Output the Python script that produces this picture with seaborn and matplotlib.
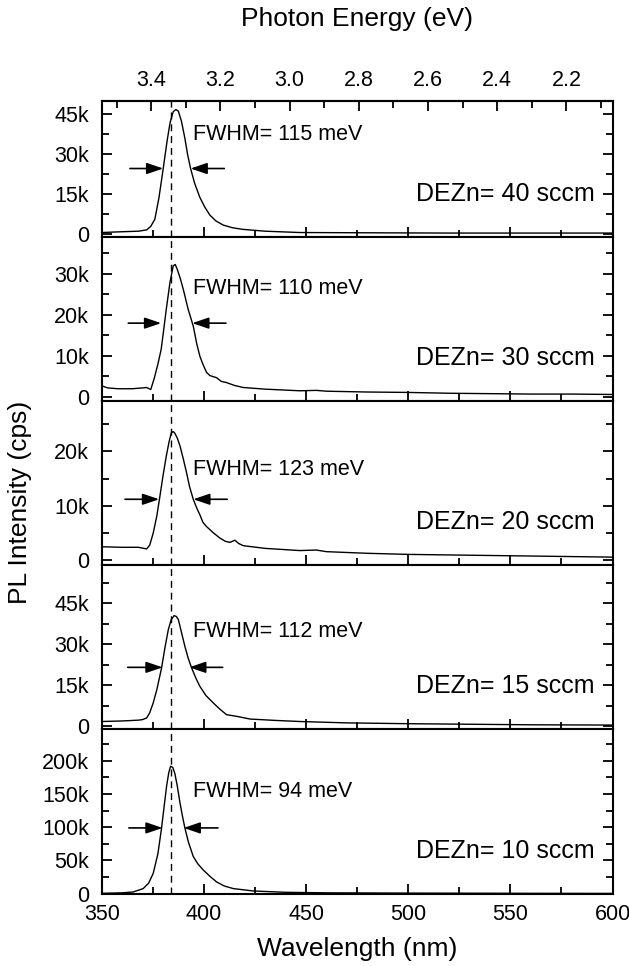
import numpy as np
import pandas as pd
import matplotlib.pyplot as plt
import seaborn as sns
from matplotlib.ticker import MultipleLocator, FixedLocator, FuncFormatter

# PL spectra, intensity in kcps
wl_40 = [350, 360, 368, 372, 374, 376, 378, 380, 382, 383.5, 385, 386.3, 387.5, 389, 390.7, 392, 393.5,
         395.5, 398, 400.5, 403, 406, 409.5, 414, 419, 430, 447, 480, 520, 560, 600]
pl_40 = [0.5, 0.8, 1.0, 1.5, 2.8, 5.5, 13.5, 24, 35, 42, 46, 46.8, 46.2, 42.5, 36, 30, 24.6,
         19, 13.8, 10, 7, 4.8, 3.3, 2.3, 1.7, 1.0, 0.5, 0.4, 0.3, 0.3, 0.3]

wl_30 = [350, 353, 358, 365, 370, 372, 374, 375.8, 377.5, 379.1, 380.5, 381.6, 383.4, 385, 386, 387, 388.5,
         389.9, 392.3, 394.8, 396.5, 398, 399.5, 401.3, 403, 406.2, 408.5, 411.1, 415, 419.3, 430, 447,
         455, 460, 480, 500, 520, 540, 560, 580, 600]
pl_30 = [2.7, 2.2, 2.0, 2.0, 2.2, 2.3, 1.8, 4.7, 8, 11.6, 17, 21.4, 27.9, 32, 32.3, 31.1, 28.8,
         26.3, 21.4, 17.3, 13, 10, 8, 6, 5.2, 4.7, 3.8, 3.5, 2.8, 2.3, 1.9, 1.5,
         1.6, 1.4, 1.2, 1.1, 0.9, 0.8, 0.7, 0.7, 0.6]

wl_20 = [350, 360, 368, 372, 373.5, 375.2, 377, 378.5, 380, 381.6, 383, 384.1, 385, 385.8, 387, 388.3,
         390, 391.5, 393, 394.8, 396.5, 398, 399.5, 401.3, 404.5, 407.8, 410.5, 412.7, 415.2, 417, 419.3,
         430, 447, 455, 460, 480, 500, 520, 540, 560, 580, 600]
pl_20 = [2.5, 2.4, 2.4, 2.1, 2.8, 5, 8.2, 11.8, 15.5, 19.1, 21.8, 23.4, 23.6, 23.3, 22.4, 21,
         18.5, 16.1, 13.5, 11.2, 9.6, 8.4, 7, 6.2, 5.1, 4.1, 3.5, 3.3, 3.7, 3.1, 2.7,
         2.2, 1.8, 1.9, 1.6, 1.3, 1.1, 1.0, 0.9, 0.8, 0.7, 0.6]

wl_15 = [350, 360, 368, 370, 372, 373.5, 375.2, 377, 379.3, 381, 382.6, 384, 385.4, 386.5, 387.5, 389,
         390.7, 392.3, 394, 396, 398, 401, 404.6, 408, 411.1, 416, 422.6, 435, 447, 470, 500, 530, 560, 600]
pl_15 = [1.8, 2.0, 2.3, 2.5, 3.1, 5, 8.6, 13.5, 21.4, 29, 35.4, 39, 40.5, 40.2, 39.1, 34.5,
         29.3, 25, 21.4, 17.8, 14.7, 11.3, 8.6, 6.2, 4.3, 3.7, 2.7, 2.2, 1.8, 1.3, 1.0, 0.8, 0.6, 0.5]

wl_10 = [350, 360, 365.4, 370.3, 373, 375.2, 377.5, 379.3, 380.5, 381.8, 382.8, 383.7, 384.8, 385.8, 387,
         388.3, 389.5, 390.7, 392.5, 394.8, 397, 399.7, 403, 406.2, 410, 414.4, 424.2, 440, 460, 500, 550, 600]
pl_10 = [0.5, 1.2, 2.5, 7.6, 16, 30.5, 60, 99, 130, 163, 182, 192, 190, 181, 162,
         137, 117, 99, 77, 56, 45, 35.6, 26, 17.7, 11.5, 7.6, 4, 2, 1.2, 0.8, 0.5, 0.3]

dezn_flow = [40, 30, 20, 15, 10]
fwhm_mev = [115, 110, 123, 112, 94]
wavelengths = [wl_40, wl_30, wl_20, wl_15, wl_10]
intensities = [pl_40, pl_30, pl_20, pl_15, pl_10]

# FWHM arrows: half max level (kcps), left tail/tip, right tail/tip (nm)
half_max = [24.6, 18, 11.2, 21.6, 99]
arrow_left = [(363.8, 380.1), (363, 379.1), (361.4, 378.1), (362.7, 379.8), (363.3, 379.8)]
arrow_right = [(410, 393.5), (410.8, 394.3), (411.4, 394.8), (409.2, 392.8), (406.9, 390.1)]
peak_line = 384

# top axis ticks (eV)
ev_major = [3.4, 3.2, 3.0, 2.8, 2.6, 2.4, 2.2]
ev_minor = [3.5, 3.3, 3.1, 2.9, 2.7, 2.5, 2.3, 2.1]

# axis setup per panel
ylims = [(-1.2, 50), (-1, 39), (-0.85, 29.2), (-0.95, 59), (-0.6, 248)]
ysteps = [15, 10, 10, 15, 50]
fwhm_text_y = [37.3, 26.5, 16.6, 34.7, 154]

sns.set_style("ticks")
plt.rcParams['font.family'] = ['Liberation Sans', 'DejaVu Sans']
plt.rcParams['axes.linewidth'] = 1.5
for key in ['text.color', 'axes.labelcolor', 'xtick.color', 'ytick.color', 'axes.edgecolor']:
    plt.rcParams[key] = 'black'

fig = plt.figure(figsize=(6.29, 9.66), dpi=100)
gs = fig.add_gridspec(5, 1, height_ratios=[136, 164, 164, 164, 165], hspace=0,
                      left=0.1617, right=0.9738, top=0.8954, bottom=0.0745)

kfmt = FuncFormatter(lambda v, p: '0' if abs(v) < 1e-9 else f'{v / 1000:.0f}k')

axes = []
for i in range(5):
    ax = fig.add_subplot(gs[i])
    axes.append(ax)
    df = pd.DataFrame({'wl': wavelengths[i], 'pl': np.array(intensities[i]) * 1000})
    sns.lineplot(data=df, x='wl', y='pl', color='black', linewidth=1.0, ax=ax)
    ax.axvline(peak_line, color='black', linestyle=(0, (5, 3.5)), linewidth=1.0)
    hm = half_max[i] * 1000
    for tail, tip in (arrow_left[i], arrow_right[i]):
        ax.annotate('', xy=(tip, hm), xytext=(tail, hm),
                    arrowprops=dict(arrowstyle='-|>,head_length=0.5,head_width=0.17',
                                    mutation_scale=20, color='black', lw=1.2,
                                    shrinkA=0, shrinkB=0))
    ax.text(394.5, fwhm_text_y[i] * 1000, f'FWHM= {fwhm_mev[i]} meV', fontsize=15.5,
            va='center', ha='left')
    ax.annotate(f'DEZn= {dezn_flow[i]} sccm', xy=(0.965, 0), xycoords='axes fraction',
                xytext=(0, 31), textcoords='offset points', fontsize=18,
                ha='right', va='center')
    ax.set_xlim(350, 600)
    lo, hi = ylims[i]
    ax.set_ylim(lo * 1000, hi * 1000)
    ax.yaxis.set_major_locator(MultipleLocator(ysteps[i] * 1000))
    ax.yaxis.set_minor_locator(MultipleLocator(ysteps[i] * 500))
    ax.yaxis.set_major_formatter(kfmt)
    ax.xaxis.set_major_locator(MultipleLocator(50))
    ax.xaxis.set_minor_locator(MultipleLocator(25))
    ax.tick_params(axis='both', which='both', direction='in', width=1.3,
                   right=True, top=False, labelsize=15.5)
    ax.tick_params(axis='both', which='major', length=7)
    ax.tick_params(axis='both', which='minor', length=5)
    ax.tick_params(axis='y', pad=9)
    ax.set_xlabel('')
    ax.set_ylabel('')
    if i < 4:
        ax.tick_params(axis='x', labelbottom=False)

axes[-1].tick_params(axis='x', pad=7)
axes[-1].set_xlabel('Wavelength (nm)', fontsize=19, labelpad=9)

# top energy axis, linear between the range ends
e_lo, e_hi = 1240 / 350, 1240 / 600


def wl_to_ev(w):
    return e_lo - (np.asarray(w) - 350) * (e_lo - e_hi) / 250


def ev_to_wl(e):
    return 350 + (e_lo - np.asarray(e)) * 250 / (e_lo - e_hi)


sec = axes[0].secondary_xaxis('top', functions=(wl_to_ev, ev_to_wl))
sec.xaxis.set_major_locator(FixedLocator(ev_major))
sec.xaxis.set_minor_locator(FixedLocator(ev_minor))
sec.xaxis.set_major_formatter(FuncFormatter(lambda v, p: f'{v:.1f}'))
sec.tick_params(axis='x', which='both', direction='in', width=1.3, labelsize=15.5, pad=7)
sec.tick_params(axis='x', which='major', length=7)
sec.tick_params(axis='x', which='minor', length=5)
sec.set_xlabel('Photon Energy (eV)', fontsize=19, labelpad=32)

fig.text(0.032, 0.48, 'PL Intensity (cps)', rotation=90, fontsize=19, ha='center', va='center')

plt.savefig('out.png', dpi=100)
